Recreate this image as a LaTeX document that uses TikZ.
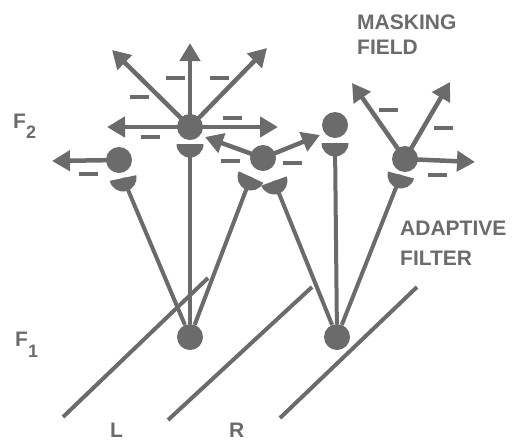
\documentclass[tikz,border=0pt]{standalone}
\usepackage{fontspec}
\setmainfont{Liberation Sans}
\usetikzlibrary{arrows.meta,calc}
\definecolor{ink}{gray}{0.42}
% half-disk receptor: flat side through #1, bulging downwards, turned by #2 degrees
\newcommand\receptor[2]{%
  \fill[ink,shift={(#1)},rotate=#2] (-13.5pt,0pt) arc[start angle=180,end angle=360,radius=13.5pt] -- cycle;}
\begin{document}
\begin{tikzpicture}[x=1pt,y=-1pt,
  cell/.style={circle,fill=ink,minimum size=26pt,inner sep=0pt},
  shaft/.style={draw=ink,line width=4.5pt,-{Triangle[length=18pt,width=20pt]}},
  stem/.style={draw=ink,line width=4pt},
  plane/.style={draw=ink,line width=4pt},
  minus/.style={rectangle,fill=ink,minimum width=19pt,minimum height=4pt,inner sep=0pt},
  lbl/.style={text=ink,font=\bfseries\fontsize{21}{25}\selectfont,inner sep=0pt,anchor=base west}]
\useasboundingbox (0,0) rectangle (516,440);

% F1 input planes
\draw[plane] (63,417) -- (208,278);
\draw[plane] (168,420) -- (312,287);
\draw[plane] (280,418) -- (417,287);

% F1 cells
\node[cell] (L) at (190,337) {};
\node[cell] (R) at (337,337) {};

% receptor sites of the adaptive filter
\coordinate (pA)  at (190,144);
\coordinate (pB)  at (123,178);
\coordinate (pCl) at (251,177);
\coordinate (pCr) at (274,181);
\coordinate (pD)  at (335,143);
\coordinate (pE)  at (401,175);

% filter pathways
\draw[stem] (L) -- (pA);
\draw[stem] (L) -- (pB);
\draw[stem] (L) -- (pCl);
\draw[stem] (R) -- (pCr);
\draw[stem] (R) -- (pD);
\draw[stem] (R) -- (pE);

\receptor{pA}{0}
\receptor{pB}{12}
\receptor{pCl}{-25}
\receptor{pCr}{20}
\receptor{pD}{0}
\receptor{pE}{-15}

% F2 (masking field) cells
\node[cell] (A) at (190,127) {};
\node[cell] (B) at (119,160) {};
\node[cell] (C) at (263,158) {};
\node[cell] (D) at (335,125) {};
\node[cell] (E) at (405,159) {};

% inhibitory outputs
\coordinate (aU)  at (190,43);
\coordinate (aUL) at (112,50);
\coordinate (aUR) at (267,48);
\coordinate (aL)  at (107,127);
\coordinate (aR)  at (278,127);
\coordinate (bL)  at (52,161);
\coordinate (cL)  at (205,137);
\coordinate (cR)  at (320,135);
\coordinate (eUL) at (352,83);
\coordinate (eUR) at (450,82);
\coordinate (eR)  at (475,162);

\draw[shaft] (A.center) -- (aU);
\draw[shaft] (A.center) -- (aUL);
\draw[shaft] (A.center) -- (aUR);
\draw[shaft] (A.center) -- (aL);
\draw[shaft] (A.center) -- (aR);
\draw[shaft] (B.center) -- (bL);
\draw[shaft] (C.center) -- (cL);
\draw[shaft] (C.center) -- (cR);
\draw[shaft] (E.center) -- (eUL);
\draw[shaft] (E.center) -- (eUR);
\draw[shaft] (E.center) -- (eR);

% minus signs
\node[minus] (m1)  at (175,78)  {};
\node[minus] (m2)  at (219,78)  {};
\node[minus] (m3)  at (139,97)  {};
\node[minus] (m4)  at (232,118) {};
\node[minus] (m5)  at (150,137) {};
\node[minus] (m6)  at (88,174)  {};
\node[minus] (m7)  at (230,161) {};
\node[minus] (m8)  at (292,163) {};
\node[minus] (m9)  at (388,110) {};
\node[minus] (m10) at (443,128) {};
\node[minus] (m11) at (437,175) {};

% labels
\node[lbl] (mask1) at (357,29)  {MASKING};
\node[lbl] (mask2) at (357,54)  {FIELD};
\node[lbl] (ad1)   at (400,235) {ADAPTIVE};
\node[lbl] (ad2)   at (400,265) {FILTER};
\node[lbl] (f2)    at (13,128)  {F\raisebox{-10pt}{\fontsize{18}{18}\selectfont 2}};
\node[lbl] (f1)    at (15,346)  {F\raisebox{-11pt}{\fontsize{18}{18}\selectfont 1}};
\node[lbl] (lL)    at (110,437) {L};
\node[lbl] (lR)    at (229,437) {R};
\end{tikzpicture}
\end{document}
